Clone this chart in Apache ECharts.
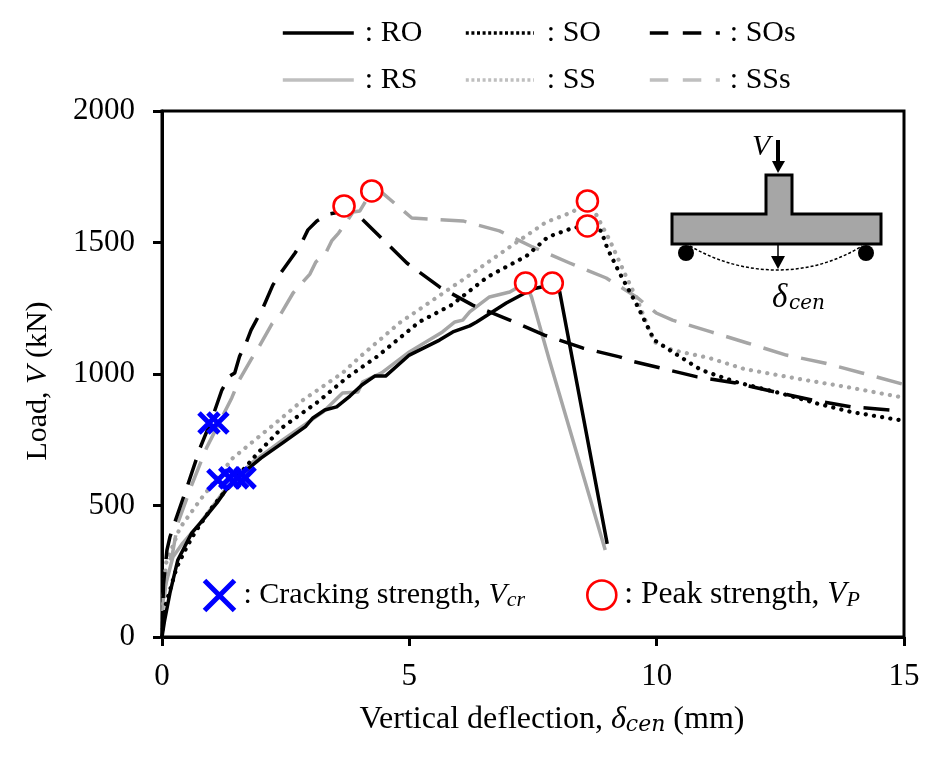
<!DOCTYPE html>
<html><head><meta charset="utf-8">
<style>html,body{margin:0;padding:0;background:#fff}#c{width:942px;height:757px}</style>
<script src="https://cdn.jsdelivr.net/npm/echarts@6/dist/echarts.min.js"></script>
</head><body><div id="c"></div>
<script>
const RO = [[0,0],[0.05,60],[0.16,167],[0.32,293],[0.6,395],[0.85,450],[1.11,510],[1.3,560],[1.64,624],[2.0,680],[2.44,738],[2.9,800],[3.05,833],[3.29,863],[3.53,875],[3.8,916],[4.04,958],[4.3,992],[4.52,992],[5.0,1072],[5.61,1129],[5.88,1160],[6.22,1183],[6.36,1198],[6.96,1270],[7.49,1323],[7.67,1331],[7.89,1346],[8.04,1312],[8.3,1053],[9.0,354]];
const RS = [[0,0],[0.03,167],[0.22,304],[0.42,357],[0.77,433],[1.27,559],[1.8,660],[2.44,749],[3.25,855],[3.65,928],[3.96,932],[4.06,970],[4.44,1004],[5.0,1084],[5.67,1160],[5.92,1198],[6.08,1205],[6.22,1236],[6.62,1293],[7.03,1312],[7.35,1346],[7.47,1293],[7.83,1053],[8.96,331]];
const SO = [[0,0],[0.06,114],[0.3,266],[0.5,342],[0.67,399],[1.0,490],[1.41,586],[1.92,696],[2.44,798],[3.15,894],[3.73,985],[4.34,1065],[5.2,1198],[5.85,1262],[6.58,1369],[7.37,1449],[7.8,1521],[8.3,1555],[8.6,1563],[8.88,1544],[9.0,1479],[9.25,1384],[9.61,1259],[9.95,1129],[10.26,1091],[10.9,1015],[11.6,970],[12.48,928],[13.2,890],[13.95,855],[15,822]];
const SS = [[0,0],[0.03,150],[0.08,280],[0.36,414],[0.77,521],[1.43,680],[2.32,817],[2.85,901],[3.65,1004],[4.0,1065],[4.8,1194],[5.57,1293],[6.28,1384],[7.03,1483],[7.77,1578],[8.3,1616],[8.6,1658],[8.78,1605],[9.05,1509],[9.35,1384],[9.61,1281],[9.81,1186],[9.95,1122],[10.32,1091],[11.06,1061],[11.77,1019],[12.88,981],[13.83,951],[15,910]];
const SOs = [[0,0],[0.03,200],[0.1,330],[0.16,380],[0.26,437],[0.52,578],[0.77,719],[1.0,825],[1.21,939],[1.37,992],[1.47,1004],[1.57,1068],[1.70,1118],[1.80,1167],[1.90,1202],[2.04,1251],[2.24,1338],[2.40,1384],[2.69,1460],[2.83,1502],[2.95,1548],[3.13,1582],[3.37,1608],[3.49,1612],[3.68,1639],[4.0,1597],[4.95,1422],[5.61,1331],[6.28,1262],[7.03,1205],[7.73,1148],[8.5,1099],[9.25,1065],[9.5,1049],[10.82,989],[11.6,966],[12.38,932],[13.14,901],[13.93,875],[14.74,863]];
const SSs = [[0,0],[0.05,150],[0.12,290],[0.2,304],[0.32,433],[0.6,578],[0.9,719],[1.41,909],[1.55,973],[1.82,1061],[1.96,1103],[2.22,1190],[2.40,1228],[2.65,1308],[2.83,1346],[2.99,1380],[3.11,1426],[3.31,1460],[3.43,1506],[3.57,1536],[3.73,1578],[3.86,1616],[4.0,1620],[4.24,1696],[4.46,1688],[5.05,1593],[6.08,1582],[6.82,1544],[7.49,1483],[8.24,1422],[8.98,1365],[9.59,1293],[9.99,1232],[10.32,1205],[11.1,1160],[11.83,1118],[12.62,1072],[13.39,1042],[14.15,1004],[15,960]];
const cracking = [[0.95,814],[1.13,814],[1.13,597],[1.37,605],[1.53,605],[1.68,605]];
const peak = [[3.68,1639],[4.24,1696],[7.35,1346],[7.89,1346],[8.6,1658],[8.6,1563]];
const xTicks = {min:0,max:15,interval:5};
const yTicks = {min:0,max:2000,interval:500};

const FONT = 'Liberation Serif';
const SUBFONT = 'DejaVu Serif';
const GRAY = '#a6a6a6', LIGHT = '#bfbfbf';
const CROSS = 'path://M0 0L10 10M10 0L0 10';
const dashLong=[26,13], dots=[0.1,8.2];
const ital={fontFamily:FONT,fontStyle:'italic',fontSize:31,color:'#000'};
const sub={fontFamily:FONT,fontStyle:'italic',fontSize:22,color:'#000',padding:[10,0,0,0]};
function line(name,data,color,type,cap,width){
  return {name,type:'line',data,symbol:'none',showSymbol:false,smooth:false,silent:true,z:3,
    lineStyle:{color,width:width||3.5,type,cap:cap||'butt',join:'round'},itemStyle:{color}};
}
function col(left,width,gap,names,dash){
  return {left,top:18,padding:0,orient:'vertical',itemGap:17,itemWidth:width,itemHeight:28,selectedMode:false,
    data:names.map((n,i)=>({name:n,lineStyle:{color:i?LIGHT:'#000',type:dash,cap:'butt',width:3.6},itemStyle:{opacity:0,color:'transparent',borderWidth:0}})),
    formatter:n=>': '+n,
    textStyle:{fontFamily:FONT,fontSize:30,color:'#000',lineHeight:28,padding:[0,0,0,gap]}};
}
const chart = echarts.init(document.getElementById('c'),null,{renderer:'canvas'});
chart.setOption({
  animation:false,backgroundColor:'#fff',
  textStyle:{fontFamily:FONT},
  grid:{left:162,right:38,top:111,bottom:120,show:true,borderColor:'#000',borderWidth:3,backgroundColor:'transparent'},
  xAxis:{type:'value',...xTicks,splitLine:{show:false},
    axisLine:{show:true,onZero:false,lineStyle:{color:'#000',width:3}},
    axisTick:{show:true,length:9,lineStyle:{color:'#000',width:3}},
    axisLabel:{fontFamily:FONT,fontSize:31,color:'#000',margin:24,formatter:v=>String(v)},
    name:'Vertical deflection, {i|δ}{s|cen} (mm)',nameLocation:'middle',nameGap:67,
    nameTextStyle:{fontFamily:FONT,fontSize:32,color:'#000',padding:[0,0,0,38],
      rich:{i:{...ital,fontSize:32},s:{fontFamily:SUBFONT,fontStyle:'italic',fontSize:22,color:'#000',padding:[10,0,0,0]}}}},
  yAxis:{type:'value',...yTicks,splitLine:{show:false},
    axisLine:{show:true,onZero:false,lineStyle:{color:'#000',width:3}},
    axisTick:{show:true,length:9,lineStyle:{color:'#000',width:3}},
    axisLabel:{fontFamily:FONT,fontSize:31,color:'#000',margin:27,formatter:v=>String(v)},
    name:'Load, {i|V} (kN)',nameLocation:'middle',nameGap:109,
    nameTextStyle:{fontFamily:FONT,fontSize:30,color:'#000',padding:[0,14,0,0],rich:{i:{...ital,fontSize:30}}}},
  legend:[
    col(281,71,6,['RO','RS'],'solid'),
    col(464,68,8,['SO','SS'],[3,2.6]),
    col(648,70,5,['SOs','SSs'],[18.5,14.5]),
    {left:202,top:578,padding:0,itemWidth:30,itemHeight:30,selectedMode:false,
      data:[{name:'Cracking strength',icon:CROSS,itemStyle:{color:'none',borderColor:'#0000ff',borderWidth:5}}],
      formatter:()=>': Cracking strength, {i|V}{s|cr}',
      textStyle:{fontFamily:FONT,fontSize:30,color:'#000',padding:[0,0,0,4],rich:{i:{...ital,fontSize:30},s:sub}}},
    {left:586,top:579,padding:0,itemWidth:29,itemHeight:29,selectedMode:false,
      data:[{name:'Peak strength',icon:'circle',itemStyle:{color:'#fff',borderColor:'#ff0000',borderWidth:2.6}}],
      formatter:()=>': Peak strength, {i|V}{s|P}',
      textStyle:{fontFamily:FONT,fontSize:31.5,color:'#000',padding:[0,0,0,3],rich:{i:{...ital,fontSize:31.5},s:sub}}}
  ],
  series:[
    line('RS',RS,GRAY,'solid'),
    line('SS',SS,GRAY,dots,'round',4.2),
    line('SSs',SSs,GRAY,dashLong),
    line('RO',RO,'#000','solid'),
    line('SO',SO,'#000',dots,'round',4.2),
    line('SOs',SOs,'#000',dashLong),
    {name:'Cracking strength',type:'scatter',data:cracking,symbol:CROSS,symbolSize:20,silent:true,z:5,
      itemStyle:{color:'none',borderColor:'#0000ff',borderWidth:5,opacity:1}},
    {name:'Peak strength',type:'scatter',data:peak,symbol:'circle',symbolSize:21,silent:true,z:6,
      itemStyle:{color:'#fff',borderColor:'#ff0000',borderWidth:2.6,opacity:1}}
  ],
  graphic:[
    {type:'polygon',z:10,shape:{points:[[672,214],[766,214],[766,175],[792,175],[792,214],[881,214],[881,244],[672,244]]},style:{fill:'#a6a6a6',stroke:'#000',lineWidth:3}},
    {type:'circle',z:10,shape:{cx:686,cy:253,r:8},style:{fill:'#000'}},
    {type:'circle',z:10,shape:{cx:866,cy:253,r:8},style:{fill:'#000'}},
    {type:'bezierCurve',z:9,shape:{x1:690,y1:246,cpx1:745,cpy1:278,cpx2:810,cpy2:278,x2:862,y2:246},style:{fill:'none',stroke:'#000',lineWidth:1.5,lineDash:[3,2]}},
    {type:'line',z:10,shape:{x1:778,y1:244,x2:778,y2:258},style:{stroke:'#000',lineWidth:1.5}},
    {type:'polygon',z:10,shape:{points:[[771,256],[785,256],[778,269]]},style:{fill:'#000'}},
    {type:'line',z:10,shape:{x1:778,y1:140,x2:778,y2:163},style:{stroke:'#000',lineWidth:4}},
    {type:'polygon',z:10,shape:{points:[[772,161],[785,161],[778,173]]},style:{fill:'#000'}},
    {type:'text',z:10,x:752,y:132,style:{text:'V',fontFamily:FONT,fontStyle:'italic',fontSize:30,fill:'#000'}},
    {type:'text',z:10,x:772,y:282,style:{text:'δ',fontFamily:FONT,fontStyle:'italic',fontSize:33,fill:'#000'}},
    {type:'text',z:10,x:789,y:294,style:{text:'cen',fontFamily:SUBFONT,fontStyle:'italic',fontSize:20,fill:'#000'}}
  ]
});
</script></body></html>
